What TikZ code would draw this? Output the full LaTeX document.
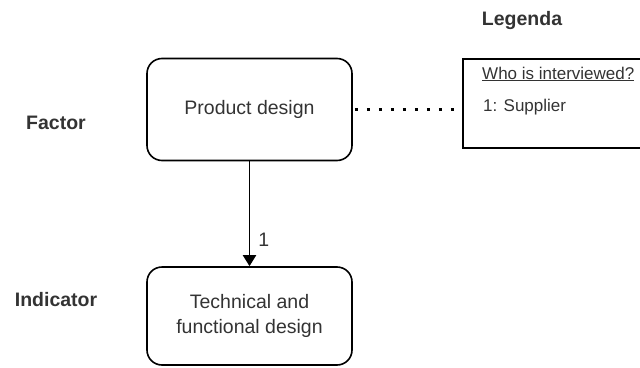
\documentclass[tikz,border=0pt]{standalone}
\usepackage{fontspec}
\setmainfont{Liberation Sans}
\usetikzlibrary{arrows.meta}
\definecolor{ink}{HTML}{333333}
\tikzset{
  block/.style={draw=black, line width=1.6pt, rounded corners=15pt, minimum width=205pt, inner sep=0pt, align=center, text=ink, font=\fontsize{19.5}{25}\selectfont},
  rowlabel/.style={text=ink, font=\bfseries\fontsize{19.5}{22}\selectfont, inner sep=0pt},
  legendtext/.style={text=ink, font=\fontsize{17}{20}\selectfont, inner sep=0pt, anchor=west},
  link/.style={draw=black, line width=1.9pt},
  dots/.style={draw=black, line width=2.8pt, dash pattern=on 2.8pt off 9.2pt}
}
\begin{document}
\begin{tikzpicture}[x=1pt, y=-1pt]
  \useasboundingbox (0,0) rectangle (640,367);
  \clip (0,0) rectangle (640,367);

  % row labels
  \node[rowlabel] (factor) at (56,123) {Factor};
  \node[rowlabel] (indicator) at (56,300) {Indicator};
  \node[rowlabel] (legenda) at (522,20) {Legenda};

  % blocks
  \node[block, minimum height=102pt] (product) at (249.5,109.5) {Product design};
  \node[block, minimum height=98pt] (technical) at (249.5,316) {Technical and\\functional design};

  % legend box, open to the right edge
  \coordinate (lgtl) at (463,59);
  \coordinate (lgbr) at (660,148);
  \draw[line width=1.6pt] (lgtl) rectangle (lgbr);
  \node[legendtext] (who) at (482,74) {\underline{Who is interviewed?}};
  \node[legendtext] (supplier) at (483,107) {1: Supplier};

  % connectors
  \draw[link, -{Triangle[length=11pt, width=13pt]}] (product.south) -- (technical.north)
    node[pos=0.75, right=8pt, text=ink, font=\fontsize{19.5}{22}\selectfont, inner sep=0pt] (one) {1};
  \coordinate (lgleft) at (463,109.5);
  \draw[dots] ([xshift=2pt]product.east) -- (lgleft);
\end{tikzpicture}
\end{document}
